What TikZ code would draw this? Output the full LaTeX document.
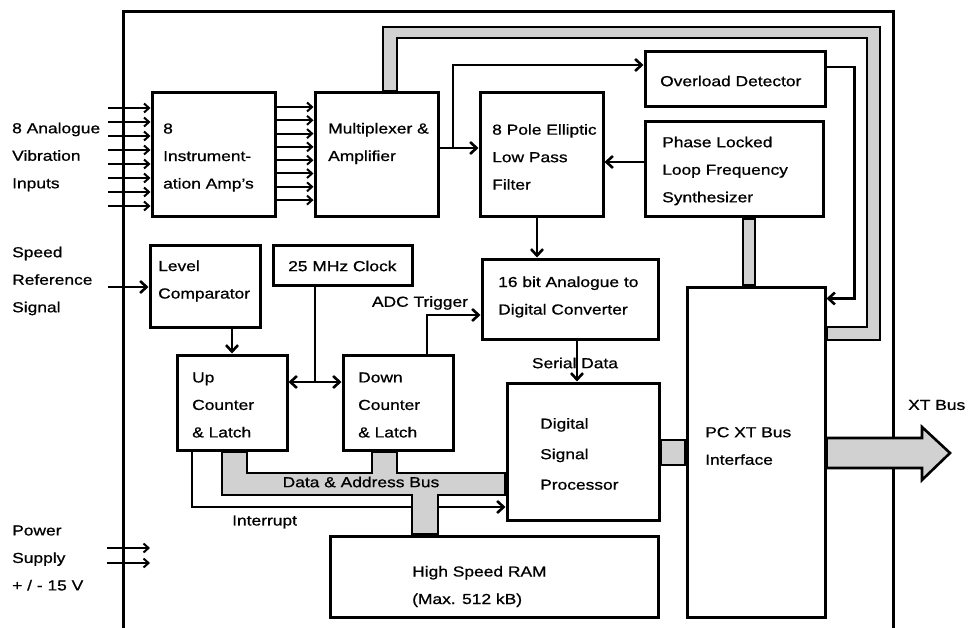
\documentclass[tikz,border=0pt]{standalone}
\usepackage{fontspec}
\setmainfont[FakeStretch=1.2,FakeBold=0.8]{Liberation Sans}
\usetikzlibrary{arrows.meta,backgrounds}
\begin{document}
\begin{tikzpicture}[x=1pt,y=-1pt,
 box/.style={draw,line width=3pt,fill=white,inner sep=0pt},
 txt/.style={align=left,inner sep=0pt,anchor=west,font=\fontsize{14.5}{27.5}\selectfont},
 lbl/.style={inner sep=0pt,font=\fontsize{14.5}{27.5}\selectfont},
 wire/.style={line width=2.6pt},
 arr/.style={line width=2.6pt,-{Straight Barb[length=6.5pt,width=12pt]}},
 darr/.style={line width=2.6pt,{Straight Barb[length=6.5pt,width=12pt]}-{Straight Barb[length=6.5pt,width=12pt]}},
 inarr/.style={line width=2pt,-{Straight Barb[length=5pt,width=9pt]}},
 bus/.style={draw,line width=2.6pt,fill=black!18,line join=miter},
 border/.style={line width=3pt}]
\useasboundingbox (0,0) rectangle (968,628);

% ---------- boxes ----------
\node[box,minimum width=123pt,minimum height=124pt] (amps) at (213.5,155) {};
\node[box,minimum width=123pt,minimum height=124pt] (mux) at (376.5,155) {};
\node[box,minimum width=123pt,minimum height=124pt] (filter) at (541.5,155) {};
\node[box,minimum width=180pt,minimum height=55pt] (od) at (735,79.5) {};
\node[box,minimum width=178pt,minimum height=95pt] (pll) at (734,169.5) {};
\node[box,minimum width=110pt,minimum height=82pt] (lc) at (205,286) {};
\node[box,minimum width=139pt,minimum height=40pt] (clk) at (342.5,265) {};
\node[box,minimum width=176pt,minimum height=80pt] (adc) at (570,299) {};
\node[box,minimum width=110pt,minimum height=95pt] (up) at (232,402.5) {};
\node[box,minimum width=110pt,minimum height=95pt] (down) at (398,402.5) {};
\node[box,minimum width=152pt,minimum height=137pt] (dsp) at (583,451.5) {};
\node[box,minimum width=138pt,minimum height=330pt] (pc) at (756,452) {};
\node[box,minimum width=328pt,minimum height=81pt] (ram) at (494,576.5) {};

% ---------- background: border, interrupt, buses ----------
\begin{pgfonlayer}{background}
\coordinate (bl) at (123,628); \coordinate (tl) at (123,12);
\coordinate (tr) at (893,12); \coordinate (br) at (893,628);
\draw[border] (bl) -- (tl) -- (tr) -- (br);

\coordinate (ir) at (192,507);
\draw[arr] (ir |- up.south) |- (ir -| dsp.west);

% data & address bus
\coordinate (d1) at (222,495); \coordinate (d2) at (412,495);
\coordinate (d3) at (438,495); \coordinate (d4) at (397,473);
\coordinate (d5) at (372,473); \coordinate (d6) at (247,473);
\filldraw[bus] (d1 |- up.south) -- (d1) -- (d2) -- (d2 |- ram.north) -- (d3 |- ram.north)
  -- (d3) -- (d3 -| dsp.west) -- (d4 -| dsp.west) -- (d4) -- (d4 |- down.south)
  -- (d5 |- down.south) -- (d5) -- (d6) -- (d6 |- up.south) -- cycle;

% upper bus mux -> PC
\coordinate (u1) at (383,27); \coordinate (u2) at (880,27);
\coordinate (u3) at (880,340); \coordinate (u4) at (867,327);
\coordinate (u5) at (867,38); \coordinate (u6) at (397,38);
\filldraw[bus] (u1 |- mux.north) -- (u1) -- (u2) -- (u3) -- (u3 -| pc.east)
  -- (u4 -| pc.east) -- (u4) -- (u5) -- (u6) -- (u6 |- mux.north) -- cycle;

% PLL -> PC bus
\coordinate (p1) at (743,0); \coordinate (p2) at (755,0);
\filldraw[bus] (p1 |- pll.south) rectangle (p2 |- pc.north);

% DSP -> PC bus
\coordinate (q1) at (0,440); \coordinate (q2) at (0,465);
\filldraw[bus] (q1 -| dsp.east) rectangle (q2 -| pc.west);

% XT bus arrow
\coordinate (x1) at (922,438); \coordinate (x2) at (922,427);
\coordinate (x3) at (950,453); \coordinate (x4) at (922,480);
\coordinate (x5) at (922,468);
\filldraw[bus] (x1 -| pc.east) -- (x1) -- (x2) -- (x3) -- (x4) -- (x5) -- (x5 -| pc.east) -- cycle;
\end{pgfonlayer}

% ---------- input arrows ----------
\foreach \i in {0,...,7} {
  \coordinate (in\i) at (108,108+14*\i);
  \draw[inarr] (in\i) -- (in\i -| amps.west);
  \coordinate (am\i) at (0,107+13.3*\i);
  \draw[inarr] (am\i -| amps.east) -- (am\i -| mux.west);
}
\coordinate (spd) at (108,287);
\draw[arr] (spd) -- (spd -| lc.west);
\coordinate (pw1) at (107,548); \coordinate (pw1e) at (150,548);
\coordinate (pw2) at (107,563); \coordinate (pw2e) at (150,563);
\draw[inarr] (pw1) -- (pw1e);
\draw[inarr] (pw2) -- (pw2e);

% ---------- signal connectors ----------
\coordinate (mf) at (453,148);
\draw[arr] (mf -| mux.east) -- (mf -| filter.west);
\draw[arr] (mf) |- ([yshift=14.5pt]od.west);
\draw[arr] ([yshift=12.5pt]od.east) -- ++(28,0) |- ([yshift=-13pt]pc.north east);
\draw[arr] ([yshift=7.5pt]pll.west) -- ([yshift=7.5pt]pll.west -| filter.east);
\draw[arr] ([xshift=-4.5pt]filter.south) -- ([xshift=-4.5pt]filter.south |- adc.north);
\draw[arr] (lc.south -| up.north) -- (up.north);
\coordinate (cj) at (315,382);
\draw[wire] (cj |- clk.south) -- (cj);
\draw[darr] (cj -| up.east) -- (cj -| down.west);
\coordinate (at) at (427,315);
\draw[arr] (at |- down.north) |- (at -| adc.west);
\coordinate (sd) at (577,0);
\draw[arr] (sd |- adc.south) -- (sd |- dsp.north);

% ---------- texts ----------
\node[txt] (t-in) at (12,157) {8 Analogue\\Vibration\\Inputs};
\node[txt] (t-spd) at (12,281) {Speed\\Reference\\Signal};
\node[txt] (t-pw) at (12,558) {Power\\Supply\\+ / - 15 V};
\node[txt] (t-amps) at (163,157.5) {8\\Instrument-\\ation Amp's};
\node[txt] (t-mux) at (328,143.5) {Multiplexer \&\\Amplifier};
\node[txt] (t-filter) at (492,157) {8 Pole Elliptic\\Low Pass\\Filter};
\node[txt] (t-od) at (660,81) {Overload Detector};
\node[txt] (t-pll) at (662,171) {Phase Locked\\Loop Frequency\\Synthesizer};
\node[txt] (t-lc) at (158,281) {Level\\Comparator};
\node[txt] (t-clk) at (288,266) {25 MHz Clock};
\node[txt] (t-adc) at (498,297) {16 bit Analogue to\\Digital Converter};
\node[txt] (t-up) at (192,405) {Up\\Counter\\\& Latch};
\node[txt] (t-down) at (358,405) {Down\\Counter\\\& Latch};
\node[txt,font=\fontsize{14.5}{30.5}\selectfont] (t-dsp) at (540,454) {Digital\\Signal\\Processor};
\node[txt] (t-ram) at (412,586.5) {High Speed RAM\\(Max. 512 kB)};
\node[txt] (t-pc) at (705,446) {PC XT Bus\\Interface};
\node[lbl] (t-trig) at (420,303) {ADC Trigger};
\node[lbl] (t-sd) at (575,363) {Serial Data};
\node[lbl] (t-bus) at (361,482) {Data \& Address Bus};
\node[lbl,anchor=west] (t-int) at (232,522) {Interrupt};
\node[lbl,anchor=west] (t-xt) at (908,405) {XT Bus};
\end{tikzpicture}
\end{document}
